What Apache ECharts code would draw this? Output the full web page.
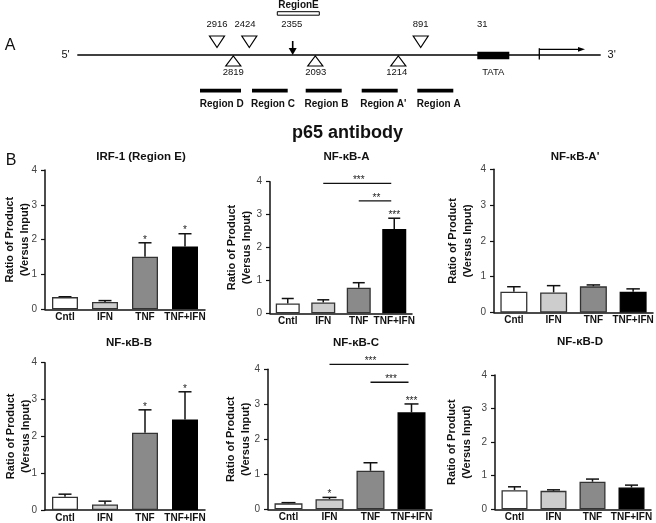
<!DOCTYPE html>
<html>
<head>
<meta charset="utf-8">
<script src="https://cdn.jsdelivr.net/npm/echarts@6/dist/echarts.min.js"></script>
<style>
  html, body { margin: 0; padding: 0; background: #fff; }
  #main { width: 656px; height: 523px; }
</style>
</head>
<body>
<div id="main"></div>
<script>
// categories shared by every panel
var categories = ['Cntl', 'IFN', 'TNF', 'TNF+IFN'];
var barColors = ['#ffffff', '#cdcdcd', '#8a8a8a', '#000000'];
var yTicks = [0, 1, 2, 3, 4];

// values (mean and upper error)
var irfMean = [0.35, 0.21, 1.51, 1.80];
var irfErr = [0.01, 0.04, 0.40, 0.37];
var aMean = [0.30, 0.33, 0.78, 2.56];
var aErr = [0.15, 0.08, 0.15, 0.33];
var aPrimeMean = [0.58, 0.56, 0.73, 0.58];
var aPrimeErr = [0.14, 0.19, 0.04, 0.08];
var bMean = [0.36, 0.15, 2.10, 2.46];
var bErr = [0.07, 0.09, 0.62, 0.75];
var cMean = [0.17, 0.29, 1.10, 2.77];
var cErr = [0.02, 0.05, 0.23, 0.24];
var dMean = [0.57, 0.55, 0.82, 0.65];
var dErr = [0.10, 0.03, 0.08, 0.07];

// significance marks
var irfStars = ['', '', '*', '*'];
var aStars = ['', '', '', '***'];
var bStars = ['', '', '*', '*'];
var cStars = ['', '*', '', '***'];
var noStars = ['', '', '', ''];
var aBrackets = [[1, 3, 3.95, '***'], [2, 3, 3.42, '**']];
var cBrackets = [[1, 3, 4.14, '***'], [2, 3, 3.63, '***']];

var panels = [
  { title: 'IRF-1 (Region E)', mean: irfMean, err: irfErr, stars: irfStars, brackets: [] },
  { title: 'NF-\u03baB-A', mean: aMean, err: aErr, stars: aStars, brackets: aBrackets },
  { title: "NF-\u03baB-A'", mean: aPrimeMean, err: aPrimeErr, stars: noStars, brackets: [] },
  { title: 'NF-\u03baB-B', mean: bMean, err: bErr, stars: bStars, brackets: [] },
  { title: 'NF-\u03baB-C', mean: cMean, err: cErr, stars: cStars, brackets: cBrackets },
  { title: 'NF-\u03baB-D', mean: dMean, err: dErr, stars: noStars, brackets: [] }
];

// pixel layout of each panel
var layouts = [
  { left: 45, top: 170, width: 160, height: 139.3, barW: 26, gap: 13, tx: 141, ty: 157 },
  { left: 270, top: 181.7, width: 142, height: 131.6, barW: 24, gap: 16, tx: 346.5, ty: 157 },
  { left: 494, top: 169.3, width: 159, height: 143.2, barW: 27, gap: 19, tx: 575, ty: 157 },
  { left: 45, top: 362.7, width: 160, height: 147.3, barW: 26, gap: 12, tx: 129, ty: 343 },
  { left: 268, top: 369.3, width: 164, height: 140, barW: 28, gap: 15, tx: 356, ty: 343 },
  { left: 495, top: 375, width: 156, height: 134.3, barW: 26, gap: 21, tx: 580, ty: 342 }
];

var FONT = '"Liberation Sans", Arial, sans-serif';
var grids = [], xAxes = [], yAxes = [], series = [], graphics = [];

panels.forEach(function (p, i) {
  var L = layouts[i];
  grids.push({ left: L.left, top: L.top, width: L.width, height: L.height, containLabel: false, outerBoundsMode: 'none' });
  xAxes.push({
    type: 'category', gridIndex: i, data: categories,
    axisLine: { lineStyle: { color: '#111', width: 1.5 } },
    axisTick: { show: false },
    axisLabel: { fontFamily: FONT, fontSize: 10, fontWeight: 'bold', color: '#111', margin: 3, interval: 0 },
    splitLine: { show: false }
  });
  yAxes.push({
    type: 'value', gridIndex: i, min: yTicks[0], max: yTicks[yTicks.length - 1], interval: 1,
    name: 'Ratio of Product\n(Versus Input)', nameLocation: 'middle', nameGap: L.gap, nameMoveOverlap: false,
    nameTextStyle: { fontFamily: FONT, fontSize: 11, fontWeight: 'bold', color: '#111', lineHeight: 15 },
    axisLine: { show: true, lineStyle: { color: '#111', width: 1.5 } },
    axisTick: { show: true, inside: false, length: 4, lineStyle: { color: '#111', width: 1.2 } },
    axisLabel: { fontFamily: FONT, fontSize: 10, color: '#444', margin: 8 },
    splitLine: { show: false }
  });
  series.push({
    type: 'bar', xAxisIndex: i, yAxisIndex: i, barWidth: L.barW,
    data: p.mean.map(function (v, k) {
      return { value: v, itemStyle: { color: barColors[k], borderColor: k === 3 ? '#000' : '#333', borderWidth: 1.3 } };
    }),
    silent: true
  });
  // error bars and stars
  series.push({
    type: 'custom', xAxisIndex: i, yAxisIndex: i, clip: false, silent: true,
    data: p.mean.map(function (v, k) { return [k, v, p.err[k]]; }),
    encode: { x: 0, y: 1 },
    renderItem: function (params, api) {
      var k = api.value(0), m = api.value(1), e = api.value(2);
      var base = api.coord([k, m]);
      var top = api.coord([k, m + e]);
      var half = L.barW / 4;
      var kids = [
        { type: 'line', shape: { x1: base[0], y1: base[1], x2: top[0], y2: top[1] }, style: { stroke: '#111', lineWidth: 1.5 } },
        { type: 'line', shape: { x1: top[0] - half, y1: top[1], x2: top[0] + half, y2: top[1] }, style: { stroke: '#111', lineWidth: 1.5 } }
      ];
      var s = p.stars[params.dataIndex];
      if (s) {
        kids.push({ type: 'text', x: top[0], y: top[1] - 3, style: { text: s, font: '10px ' + FONT, fill: '#222', align: 'center', verticalAlign: 'middle' } });
      }
      return { type: 'group', children: kids };
    }
  });
  if (p.brackets.length) {
    series.push({
      type: 'custom', xAxisIndex: i, yAxisIndex: i, clip: false, silent: true,
      data: p.brackets.map(function (b) { return [b[0], b[1], b[2]]; }),
      encode: { x: [0, 1], y: 2 },
      renderItem: function (params, api) {
        var a = api.coord([api.value(0), api.value(2)]);
        var b = api.coord([api.value(1), api.value(2)]);
        var txt = p.brackets[params.dataIndex][3];
        return { type: 'group', children: [
          { type: 'line', shape: { x1: a[0], y1: a[1], x2: b[0] - 3, y2: b[1] }, style: { stroke: '#111', lineWidth: 1.3 } },
          { type: 'text', x: (a[0] + b[0]) / 2, y: a[1] - 3, style: { text: txt, font: '10px ' + FONT, fill: '#222', align: 'center', verticalAlign: 'middle' } }
        ] };
      }
    });
  }
  graphics.push({ type: 'text', x: L.tx, y: L.ty, style: { text: p.title, font: 'bold 11.5px ' + FONT, fill: '#111', align: 'center', verticalAlign: 'middle' } });
});

// helpers for the promoter schematic (panel A)
function txt(t, x, y, font) {
  return { type: 'text', x: x, y: y, style: { text: t, font: font + ' ' + FONT, fill: '#111', align: 'center', verticalAlign: 'middle' } };
}
function seg(x1, y1, x2, y2, w) {
  return { type: 'line', shape: { x1: x1, y1: y1, x2: x2, y2: y2 }, style: { stroke: '#000', lineWidth: w } };
}
function tri(cx, down) {
  var pts = down ? [[cx - 7.5, 36], [cx + 7.5, 36], [cx, 47.5]] : [[cx - 7.5, 66], [cx + 7.5, 66], [cx, 56]];
  return { type: 'polygon', shape: { points: pts }, style: { fill: '#fff', stroke: '#000', lineWidth: 1.2 } };
}

var siteAbove = [['2916', 217], ['2424', 245], ['2355', 291.7], ['891', 420.7], ['31', 482.3]];
var siteBelow = [['2819', 233.3], ['2093', 315.7], ['1214', 396.7], ['TATA', 493.3]];
var regions = [['Region D', 200, 241, 221.7], ['Region C', 252, 287.7, 273], ['Region B', 305.7, 341.7, 326.5], ["Region A'", 361.7, 397.7, 383.3], ['Region A', 417.3, 453.3, 438.7]];

graphics.push(txt('A', 10, 46, '16px'));
graphics.push(txt('B', 11, 161, '16px'));
graphics.push(txt('p65 antibody', 347.5, 133, 'bold 18px'));
graphics.push(txt("5'", 65.5, 55, '11px'));
graphics.push(txt("3'", 611.7, 55, '11px'));
graphics.push(seg(77.3, 55, 600.7, 55, 1.4));
[217, 249.3, 420.7].forEach(function (c) { graphics.push(tri(c, true)); });
[233.3, 315.3, 398.3].forEach(function (c) { graphics.push(tri(c, false)); });
siteAbove.forEach(function (s) { graphics.push(txt(s[0], s[1], 24.3, '9.5px')); });
siteBelow.forEach(function (s) { graphics.push(txt(s[0], s[1], 72.5, '9.5px')); });
graphics.push(txt('RegionE', 298.5, 5.5, 'bold 10px'));
graphics.push({ type: 'rect', shape: { x: 277.3, y: 11.7, width: 42, height: 3.5 }, style: { fill: '#fff', stroke: '#000', lineWidth: 1 } });
graphics.push(seg(292.7, 41, 292.7, 49, 1.6));
graphics.push({ type: 'polygon', shape: { points: [[288.7, 48], [296.7, 48], [292.7, 55]] }, style: { fill: '#000' } });
graphics.push({ type: 'rect', shape: { x: 477.3, y: 51.7, width: 32, height: 7.6 }, style: { fill: '#000' } });
graphics.push(seg(539.3, 48.3, 539.3, 59.5, 1.3));
graphics.push(seg(539.3, 49.3, 579, 49.3, 1.2));
graphics.push({ type: 'polygon', shape: { points: [[585, 49.3], [578, 46.9], [578, 51.7]] }, style: { fill: '#000' } });
regions.forEach(function (r) {
  graphics.push(seg(r[1], 90.7, r[2], 90.7, 3.8));
  graphics.push(txt(r[0], r[3], 104, 'bold 10px'));
});

var chart = echarts.init(document.getElementById('main'));
chart.setOption({
  animation: false,
  backgroundColor: '#fff',
  grid: grids,
  xAxis: xAxes,
  yAxis: yAxes,
  series: series,
  graphic: { elements: graphics }
});
</script>
</body>
</html>
